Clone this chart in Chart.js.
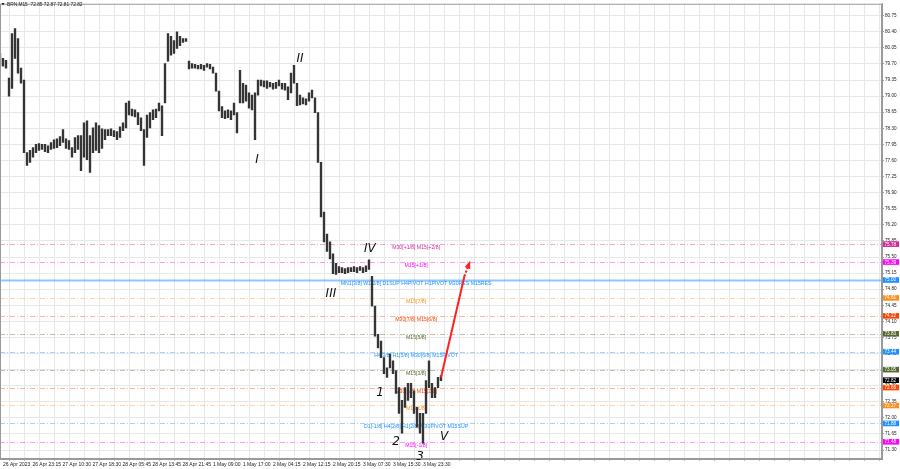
<!DOCTYPE html>
<html>
<head>
<meta charset="utf-8">
<script src="https://cdn.jsdelivr.net/npm/chart.js@4.4.0/dist/chart.umd.min.js"></script>
<style>
  html, body { margin: 0; padding: 0; background: #fff; }
  #wrap { width: 900px; height: 469px; }
</style>
</head>
<body>
<div id="wrap"><canvas id="chart"></canvas></div>
<script>
// BRN M15 bars, one entry per ~3 px column of the screenshot (high / low)
const barHigh = [79.93,79.82,79.78,79.39,80.36,80.47,80.25,79.61,79.35,77.77,
  77.82,77.88,77.95,77.97,77.95,77.95,77.92,77.99,78.05,78.07,
  78.12,78.27,78.07,78.03,77.88,78.10,78.14,78.14,78.42,78.46,
  78.14,78.31,78.42,78.36,78.29,78.27,78.27,78.29,78.25,78.23,
  78.33,78.42,78.85,78.89,78.72,78.70,78.64,78.53,78.27,78.59,
  78.64,78.70,78.72,78.85,78.79,79.71,80.36,80.30,80.21,80.40,
  80.30,80.25,80.25,79.76,79.71,79.69,79.67,79.69,79.67,79.71,
  79.69,79.63,79.50,79.11,78.77,78.68,78.70,78.68,78.85,78.64,
  79.56,79.28,79.24,79.07,79.02,79.07,79.35,79.35,79.33,79.33,
  79.30,79.28,79.30,79.35,79.28,79.28,79.20,79.50,79.67,79.28,
  79.02,78.96,78.94,79.07,79.13,78.96,78.64,77.56,76.48,76.00,
  75.83,75.57,75.36,75.29,75.27,75.25,75.27,75.27,75.29,75.27,
  75.29,75.27,75.31,75.44,75.08,74.43,73.82,73.67,73.31,73.09,
  73.39,73.24,73.03,72.66,72.38,72.66,72.75,72.75,72.59,72.23,
  72.10,72.10,72.81,73.24,72.75,72.66,72.88,72.92]

const barLow = [79.67,79.65,79.61,79.00,79.17,79.82,79.50,79.28,77.77,77.49,
  77.56,77.67,77.77,77.82,77.84,77.79,77.77,77.84,77.86,77.88,
  77.92,77.99,77.86,77.84,77.67,77.77,77.84,77.38,77.67,77.62,
  77.34,77.77,77.82,77.77,77.86,78.05,78.14,78.14,78.12,78.05,
  78.10,78.25,78.31,78.59,78.57,78.55,78.38,78.25,77.49,78.10,
  78.31,78.49,78.53,78.68,78.14,78.85,79.76,79.89,79.93,80.04,
  80.10,80.17,80.19,79.59,79.61,79.61,79.59,79.59,79.56,79.63,
  79.59,79.50,79.11,78.68,78.53,78.51,78.53,78.49,78.59,78.20,
  78.85,78.85,78.89,78.74,78.70,78.05,79.02,79.22,79.20,79.17,
  79.20,79.15,79.17,79.22,79.15,79.13,78.92,79.07,79.28,78.79,
  78.81,78.83,78.81,78.89,78.96,78.64,77.56,76.37,75.83,75.62,
  75.46,75.14,75.12,75.16,75.16,75.14,75.16,75.18,75.18,75.16,
  75.21,75.16,75.18,75.23,74.43,73.78,73.52,73.31,72.96,72.88,
  73.09,72.96,72.53,72.10,71.67,72.23,72.38,72.44,72.10,71.80,
  71.67,71.45,72.10,72.66,72.44,72.44,72.66,72.81]

const timeLabels = ['26 Apr 2023', '26 Apr 23:15', '27 Apr 10:30', '27 Apr 18:30',
  '28 Apr 05:45', '28 Apr 13:45', '28 Apr 21:45', '1 May 09:00', '1 May 17:00',
  '2 May 04:15', '2 May 12:15', '2 May 20:15', '3 May 07:30', '3 May 15:30', '3 May 23:30']

const priceTicks = [80.75, 80.40, 80.05, 79.70, 79.35, 79.00, 78.65, 78.30, 77.95,
  77.60, 77.25, 76.90, 76.55, 76.20, 75.85, 75.50, 75.15, 74.80, 74.45, 74.10,
  73.75, 73.40, 73.05, 72.70, 72.35, 72.00, 71.65, 71.30]

// Murrey math levels drawn by the indicator
const levelPrices = [75.78, 75.39, 75.00, 74.61, 74.22, 73.83, 73.44, 73.05, 72.66, 72.27, 71.88, 71.48]
const levelNames = ['M30[+1/8] M15[+2/8]', 'M15[+1/8]',
  'MN1[3/8] W1[2/8] D1SUP H4PIVOT H1PIVOT M30RES M15RES', 'M15[7/8]',
  'M30[7/8] M15[6/8]', 'M15[5/8]', 'H4[3/8] H1[5/8] M30[6/8] M15PIVOT', 'M15[3/8]',
  'M30[5/8] M15[2/8]', 'M15[1/8]', 'D1[-1/8] H4[2/8] H1[2/8] M30PIVOT M15SUP', 'M15[-1/8]']
const levelColors = ['#d6289a', '#ff00ff', '#1e90ff', '#ff9020', '#ff4500', '#556b2f',
  '#1e90ff', '#556b2f', '#ff4500', '#ff9020', '#1e90ff', '#ff00ff']

const lastPrice = 72.82
const quoteText = 'BRN,M15  72.85 72.87 72.81 72.82'

// Elliott wave marks (bar index, price)
const waveText = ['I', 'II', 'III', 'IV', '1', '2', '3', 'V']
const waveX = [85.7, 100, 110.3, 123.3, 126.7, 132, 140, 148]
const waveY = [77.62, 79.80, 74.69, 75.68, 72.55, 71.47, 71.15, 71.58]

// projected move (bar index, price)
const arrowX = [147, 154.8, 156.5]
const arrowY = [72.88, 75.08, 75.38]

const PLOT_UNITS = 294       // 3 px per bar column, 882 px plot
const GRID_OFFSET = 0.57
const LABEL_X = 138.7
const MAJOR_LEVEL = 75.00
const FONT = '"Liberation Sans", Arial, sans-serif'

const mtOverlay = {
  id: 'mtOverlay',
  beforeDatasetsDraw(chart) {
    const { ctx, chartArea: a, scales: { x, y } } = chart
    ctx.save()
    ctx.beginPath()
    ctx.rect(a.left, a.top, a.right - a.left, a.bottom - a.top)
    ctx.clip()
    levelPrices.forEach((p, i) => {
      const py = Math.round(y.getPixelForValue(p)) + 0.5
      ctx.strokeStyle = levelColors[i]
      if (p === MAJOR_LEVEL) {
        ctx.globalAlpha = 0.5
        ctx.lineWidth = 2.2
        ctx.setLineDash([])
      } else {
        ctx.globalAlpha = 0.4
        ctx.lineWidth = 1
        ctx.setLineDash([5, 2, 1, 2])
      }
      ctx.beginPath()
      ctx.moveTo(a.left, py)
      ctx.lineTo(a.right, py)
      ctx.stroke()
      ctx.globalAlpha = 1
      ctx.fillStyle = levelColors[i]
      ctx.font = '5.2px ' + FONT
      ctx.textAlign = 'center'
      ctx.textBaseline = 'middle'
      ctx.fillText(levelNames[i], x.getPixelForValue(LABEL_X), py + 3)
    })
    ctx.restore()
  },
  afterDatasetsDraw(chart) {
    const { ctx, scales: { x, y } } = chart
    ctx.save()
    // arrow head
    const n = arrowX.length
    const x1 = x.getPixelForValue(arrowX[n - 2]), y1 = y.getPixelForValue(arrowY[n - 2])
    const x2 = x.getPixelForValue(arrowX[n - 1]), y2 = y.getPixelForValue(arrowY[n - 1])
    const ang = Math.atan2(y2 - y1, x2 - x1)
    const len = 6, wid = 3
    ctx.fillStyle = '#ff2222'
    ctx.beginPath()
    ctx.moveTo(x2 + Math.cos(ang) * 2, y2 + Math.sin(ang) * 2)
    ctx.lineTo(x2 - Math.cos(ang) * len - Math.sin(ang) * wid, y2 - Math.sin(ang) * len + Math.cos(ang) * wid)
    ctx.lineTo(x2 - Math.cos(ang) * len + Math.sin(ang) * wid, y2 - Math.sin(ang) * len - Math.cos(ang) * wid)
    ctx.closePath()
    ctx.fill()
    // wave counts
    ctx.fillStyle = '#111'
    ctx.font = 'italic 12px "DejaVu Sans", sans-serif'
    ctx.textAlign = 'center'
    ctx.textBaseline = 'middle'
    waveText.forEach((t, i) => {
      ctx.fillText(t, x.getPixelForValue(waveX[i]), y.getPixelForValue(waveY[i]))
    })
    ctx.restore()
  },
  afterDraw(chart) {
    const { ctx, chartArea: a, scales: { y } } = chart
    ctx.save()
    ctx.strokeStyle = '#9a9a9a'
    ctx.lineWidth = 1
    ctx.strokeRect(a.left + 0.5, a.top + 0.5, a.right - a.left - 1, a.bottom - a.top - 1)
    // price boxes on the right scale
    const box = (p, color) => {
      const py = y.getPixelForValue(p)
      ctx.fillStyle = color
      ctx.fillRect(a.right + 1, py - 2.8, 16, 5.6)
      ctx.fillStyle = '#fff'
      ctx.font = '4.6px ' + FONT
      ctx.textAlign = 'left'
      ctx.textBaseline = 'middle'
      ctx.fillText(p.toFixed(2), a.right + 2.5, py + 0.2)
    }
    levelPrices.forEach((p, i) => box(p, levelColors[i]))
    box(lastPrice, '#000')
    // symbol line, top left
    ctx.fillStyle = '#222'
    ctx.beginPath()
    ctx.moveTo(1.5, 3)
    ctx.lineTo(4.5, 3)
    ctx.lineTo(3, 5.5)
    ctx.closePath()
    ctx.fill()
    ctx.font = '4.8px ' + FONT
    ctx.textAlign = 'left'
    ctx.textBaseline = 'middle'
    ctx.fillText(quoteText, 7, 4.5)
    ctx.restore()
  }
}

const bars = barHigh.map((h, i) => ({ x: i, y: [barLow[i], h] }))
const arrowSolid = arrowX.slice(0, 2).map((v, i) => ({ x: v, y: arrowY[i] }))
const arrowDotted = arrowX.slice(1).map((v, i) => ({ x: v, y: arrowY[i + 1] }))

new Chart(document.getElementById('chart'), {
  type: 'bar',
  data: {
    datasets: [
      {
        type: 'bar',
        data: bars,
        backgroundColor: '#353535',
        borderWidth: 0,
        barThickness: 1.7,
        grouped: false,
        order: 2
      },
      {
        type: 'line',
        data: arrowSolid,
        borderColor: '#ff2222',
        borderWidth: 2,
        pointRadius: 0,
        order: 0
      },
      {
        type: 'line',
        data: arrowDotted,
        borderColor: '#ff2222',
        borderWidth: 2.2,
        borderDash: [2, 2],
        pointRadius: 0,
        order: 0
      }
    ]
  },
  options: {
    responsive: true,
    maintainAspectRatio: false,
    animation: false,
    layout: { padding: 0 },
    plugins: {
      legend: { display: false },
      tooltip: { enabled: false }
    },
    scales: {
      x: {
        type: 'linear',
        min: 0,
        max: PLOT_UNITS,
        offset: false,
        afterBuildTicks: (scale) => {
          const t = []
          for (let v = GRID_OFFSET; v < PLOT_UNITS; v += 5) t.push({ value: v })
          scale.ticks = t
        },
        afterFit: (scale) => { scale.height = 10 },
        grid: { color: '#e8e8e8', tickLength: 2, tickColor: '#bbb' },
        border: { color: '#9a9a9a' },
        ticks: {
          autoSkip: false,
          maxRotation: 0,
          padding: 1,
          color: '#222',
          font: { family: FONT, size: 5 },
          callback: (val, idx) => (idx % 2 === 1 && (idx - 1) / 2 < timeLabels.length)
            ? timeLabels[(idx - 1) / 2] : ''
        }
      },
      y: {
        position: 'right',
        min: 71.106,
        max: 81.009,
        afterBuildTicks: (scale) => {
          scale.ticks = priceTicks.map((v) => ({ value: v }))
        },
        afterFit: (scale) => { scale.width = 18 },
        grid: { color: '#e8e8e8', tickLength: 2, tickColor: '#999' },
        border: { color: '#9a9a9a' },
        ticks: {
          padding: 1,
          color: '#222',
          font: { family: FONT, size: 4.6 },
          callback: (val) => Number(val).toFixed(2)
        }
      }
    }
  },
  plugins: [mtOverlay]
})
</script>
</body>
</html>
